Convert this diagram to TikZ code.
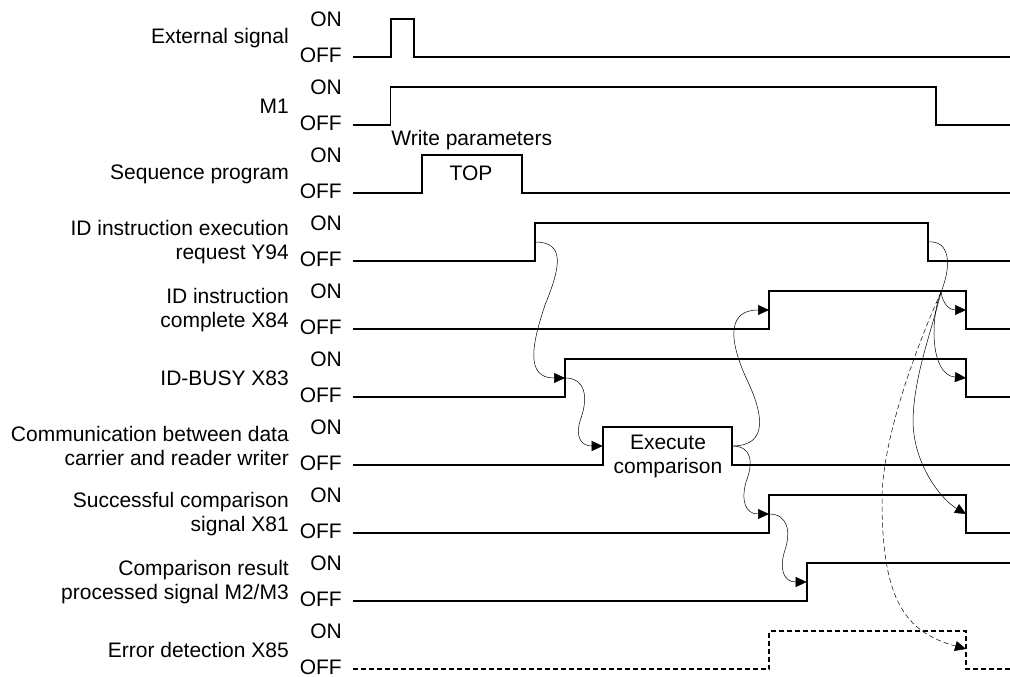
\documentclass[tikz,border=0pt]{standalone}
\usepackage{fontspec}
\setmainfont{Liberation Sans}
\usetikzlibrary{arrows.meta}

\begin{document}
\begin{tikzpicture}[x=1pt, y=-1pt, font=\fontsize{21}{24}\selectfont,
	sig/.style={line width=1.8pt},
	cn/.style={line width=0.5pt, -{Triangle[length=11pt, width=10pt]}},
	lv/.style={anchor=east, inner sep=0pt},
	nm/.style={anchor=east, inner sep=0pt, align=right}]
		\useasboundingbox (0,0) rectangle (1010,677);

		% ON/OFF levels of each row
		\foreach \i in {0,...,9} {
			\node[lv] (on\i) at (342, 19+68*\i) {ON};
			\node[lv] (off\i) at (342, 55+68*\i) {OFF};
		}

		\node[nm] (ext) at (289,38) {External signal};
		\node[nm] (m1) at (289,106) {M1};
		\node[nm] (seq) at (289,174) {Sequence program};
		\node[nm] (y94) at (289,242) {ID instruction execution\\request Y94};
		\node[nm] (x84) at (289,310) {ID instruction\\complete X84};
		\node[nm] (x83) at (289,378) {ID-BUSY X83};
		\node[nm] (com) at (289,446) {Communication between data\\carrier and reader writer};
		\node[nm] (x81) at (289,514) {Successful comparison\\signal X81};
		\node[nm] (m23) at (289,582) {Comparison result\\processed signal M2/M3};
		\node[nm] (x85) at (289,650) {Error detection X85};

		% waveforms
		\draw[sig] (352.5,57) -| (391,19) -| (414,57) -- (1010,57);
		\draw[sig] (352.5,125) -| (390.4,87) -| (936,125) -- (1010,125);
		\draw[sig] (352.5,193) -| (422,155) -| (521.7,193) -- (1010,193);
		\draw[sig] (352.5,261) -| (535,223) -| (928,261) -- (1010,261);
		\draw[sig] (352.5,329) -| (769,291) -| (966,329) -- (1010,329);
		\draw[sig] (352.5,397) -| (565,359) -| (966,397) -- (1010,397);
		\draw[sig] (352.5,465) -| (602.7,427) -| (732,465) -- (1010,465);
		\draw[sig] (352.5,533) -| (769,495) -| (966,533) -- (1010,533);
		\draw[sig] (352.5,601) -| (806.7,563) -- (1010,563);
		\draw[sig, dash pattern=on 5pt off 3pt] (352.5,669) -| (769,631) -| (966,669) -- (1010,669);

		\node (wp) at (471.7,140) {Write parameters};
		\node (top) at (471,173) {TOP};
		\node[align=center] (exe) at (668,456) {Execute\\comparison};

		% edge points
		\coordinate (Y94r) at (535,242);
		\coordinate (Y94f) at (928,242);
		\coordinate (X84r) at (769,310);
		\coordinate (X84f) at (966,310);
		\coordinate (X83r) at (565,378);
		\coordinate (X83f) at (966,378);
		\coordinate (COMr) at (602.7,446);
		\coordinate (COMf) at (732,446);
		\coordinate (X81r) at (769,514);
		\coordinate (X81f) at (966,514);
		\coordinate (M2r) at (806.7,582);
		\coordinate (X85f) at (966,649);
		\coordinate (J) at (941,292);

		\draw[cn] (Y94r) .. controls (565,242) and (561,266) .. (545,305) .. controls (532,344) and (525,378) .. (X83r);
		\draw[cn] (X83r) .. controls (586,378) and (588,398) .. (581,418) .. controls (574,438) and (582,446) .. (COMr);
		\draw[cn] (COMf) .. controls (770,446) and (762,412) .. (748,382) .. controls (730,344) and (725,310) .. (X84r);
		\draw[cn] (COMf) .. controls (753,446) and (753,464) .. (746,482) .. controls (741,500) and (745,514) .. (X81r);
		\draw[cn] (X81r) .. controls (788,514) and (791,532) .. (785,550) .. controls (779,568) and (783,582) .. (M2r);

		\draw[line width=0.5pt] (Y94f) .. controls (950,240) and (952,265) .. (J);
		\draw[cn] (J) .. controls (943,305) and (950,310) .. (X84f);
		\draw[cn] (J) .. controls (930,318) and (930,375) .. (X83f);
		\draw[cn] (J) .. controls (932,330) and (914,375) .. (913,420) .. controls (913,465) and (942,500) .. (X81f);
		\draw[cn, dash pattern=on 5pt off 3pt] (J) .. controls (915,350) and (882,440) .. (882,500) .. controls (882,600) and (905,632) .. (X85f);
	\end{tikzpicture}
\end{document}
